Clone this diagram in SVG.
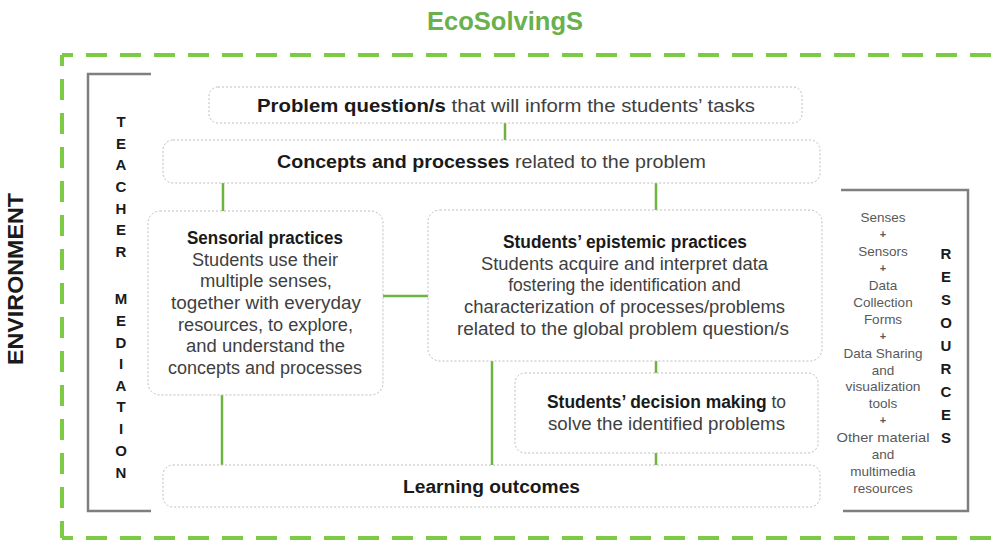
<svg xmlns="http://www.w3.org/2000/svg" width="991" height="542" viewBox="0 0 991 542">
<style>
.box{fill:#fff;stroke:#bdbdbd;stroke-width:1;stroke-dasharray:2 2}
.con{stroke:#6db33f;stroke-width:2.5;fill:none}
.env{stroke:#7ccb45;stroke-width:4;fill:none;stroke-dasharray:21 13}
.brk{stroke:#7f7f7f;stroke-width:2.5;fill:none}
text{font-family:"Liberation Sans",Arial,sans-serif}
.t{font-size:17.5px;fill:#404040;text-anchor:middle}
.b{font-weight:bold;fill:#1a1a1a}
.v{font-size:15px;font-weight:bold;fill:#1a1a1a;text-anchor:middle}
.r{font-size:13.5px;fill:#595959;text-anchor:middle}
.p{font-size:11px;fill:#595959;text-anchor:middle;font-weight:bold}
</style>
<rect width="991" height="542" fill="#fff"/>
<g id="environment">
<line class="env" x1="62" y1="55" x2="1000" y2="55" stroke-dashoffset="10"/>
<line class="env" x1="62" y1="55" x2="62" y2="538" stroke-dashoffset="10"/>
<line class="env" x1="62" y1="538" x2="1000" y2="538" stroke-dashoffset="10"/>
<text transform="translate(23,279) rotate(-90)" text-anchor="middle" font-size="22" font-weight="bold" fill="#1a1a1a" textLength="172" lengthAdjust="spacingAndGlyphs">ENVIRONMENT</text>
</g>
<g id="title">
<text x="505" y="30" text-anchor="middle" font-size="25" font-weight="bold" fill="#6ab04c" textLength="156" lengthAdjust="spacingAndGlyphs">EcoSolvingS</text>
</g>
<g id="teacher-mediation">
<polyline class="brk" points="151,74 88,74 88,511 151,511"/>
<text class="v" x="121" y="127">T</text>
<text class="v" x="121" y="148.6">E</text>
<text class="v" x="121" y="170">A</text>
<text class="v" x="121" y="192">C</text>
<text class="v" x="121" y="213.5">H</text>
<text class="v" x="121" y="235">E</text>
<text class="v" x="121" y="257">R</text>
<text class="v" x="121" y="304">M</text>
<text class="v" x="121" y="326">E</text>
<text class="v" x="121" y="348">D</text>
<text class="v" x="121" y="369">I</text>
<text class="v" x="121" y="391">A</text>
<text class="v" x="121" y="412">T</text>
<text class="v" x="121" y="434">I</text>
<text class="v" x="121" y="456">O</text>
<text class="v" x="121" y="478">N</text>
</g>
<g id="resources">
<polyline class="brk" points="841,190 968,190 968,511 843,511"/>
<text class="r" x="883" y="222">Senses</text>
<text class="p" x="883" y="238">+</text>
<text class="r" x="883" y="256">Sensors</text>
<text class="p" x="883" y="272">+</text>
<text class="r" x="883" y="290">Data</text>
<text class="r" x="883" y="306.5">Collection</text>
<text class="r" x="883" y="323.5">Forms</text>
<text class="p" x="883" y="339.5">+</text>
<text class="r" x="883" y="357.5" textLength="79" lengthAdjust="spacingAndGlyphs">Data Sharing</text>
<text class="r" x="883" y="374.5">and</text>
<text class="r" x="883" y="391" textLength="75" lengthAdjust="spacingAndGlyphs">visualization</text>
<text class="r" x="883" y="408">tools</text>
<text class="p" x="883" y="424">+</text>
<text class="r" x="883" y="442" textLength="93" lengthAdjust="spacingAndGlyphs">Other material</text>
<text class="r" x="883" y="459">and</text>
<text class="r" x="883" y="476">multimedia</text>
<text class="r" x="883" y="493">resources</text>
<text class="v" x="946" y="259">R</text>
<text class="v" x="946" y="282">E</text>
<text class="v" x="946" y="305">S</text>
<text class="v" x="946" y="328">O</text>
<text class="v" x="946" y="351">U</text>
<text class="v" x="946" y="374">R</text>
<text class="v" x="946" y="397">C</text>
<text class="v" x="946" y="420">E</text>
<text class="v" x="946" y="443">S</text>
</g>
<g id="connectors">
<line class="con" x1="505" y1="123" x2="505" y2="140"/>
<line class="con" x1="223" y1="183" x2="223" y2="211"/>
<line class="con" x1="656" y1="183" x2="656" y2="210"/>
<line class="con" x1="383" y1="296" x2="428" y2="296"/>
<line class="con" x1="656" y1="361" x2="656" y2="373"/>
<line class="con" x1="492" y1="361" x2="492" y2="465"/>
<line class="con" x1="222" y1="395" x2="222" y2="465"/>
<line class="con" x1="656" y1="453" x2="656" y2="465"/>
</g>
<g id="problem">
<rect class="box" x="209" y="87" width="593" height="36" rx="9"/>
<text class="t" x="506" y="112" textLength="498" lengthAdjust="spacingAndGlyphs"><tspan class="b">Problem question/s</tspan> that will inform the students’ tasks</text>
</g>
<g id="concepts">
<rect class="box" x="163" y="140" width="657" height="43" rx="10"/>
<text class="t" x="491.5" y="168" textLength="429" lengthAdjust="spacingAndGlyphs"><tspan class="b">Concepts and processes</tspan> related to the problem</text>
</g>
<g id="sensorial">
<rect class="box" x="148" y="211" width="235" height="184" rx="12"/>
<text class="t b" x="265" y="244" textLength="156" lengthAdjust="spacingAndGlyphs">Sensorial practices</text>
<text class="t" x="265" y="265.5" textLength="146" lengthAdjust="spacingAndGlyphs">Students use their</text>
<text class="t" x="266" y="287" textLength="132" lengthAdjust="spacingAndGlyphs">multiple senses,</text>
<text class="t" x="266" y="309" textLength="190" lengthAdjust="spacingAndGlyphs">together with everyday</text>
<text class="t" x="265.5" y="331" textLength="175" lengthAdjust="spacingAndGlyphs">resources, to explore,</text>
<text class="t" x="265.5" y="352" textLength="159" lengthAdjust="spacingAndGlyphs">and understand the</text>
<text class="t" x="265" y="373.5" textLength="194" lengthAdjust="spacingAndGlyphs">concepts and processes</text>
</g>
<g id="epistemic">
<rect class="box" x="428" y="210" width="394" height="151" rx="12"/>
<text class="t b" x="625" y="248" textLength="244" lengthAdjust="spacingAndGlyphs">Students’ epistemic practices</text>
<text class="t" x="624.5" y="269.5" textLength="287" lengthAdjust="spacingAndGlyphs">Students acquire and interpret data</text>
<text class="t" x="624.5" y="291">fostering the identification and</text>
<text class="t" x="624.5" y="313" textLength="321" lengthAdjust="spacingAndGlyphs">characterization of processes/problems</text>
<text class="t" x="623" y="334.5" textLength="332" lengthAdjust="spacingAndGlyphs">related to the global problem question/s</text>
</g>
<g id="decision">
<rect class="box" x="515" y="373" width="303" height="80" rx="10"/>
<text class="t" x="666.5" y="408" textLength="239" lengthAdjust="spacingAndGlyphs"><tspan class="b">Students’ decision making</tspan> to</text>
<text class="t" x="666.5" y="429.5" textLength="237" lengthAdjust="spacingAndGlyphs">solve the identified problems</text>
</g>
<g id="learning">
<rect class="box" x="163" y="465" width="657" height="42" rx="10"/>
<text class="t b" x="491.5" y="493" textLength="177" lengthAdjust="spacingAndGlyphs">Learning outcomes</text>
</g>
</svg>
